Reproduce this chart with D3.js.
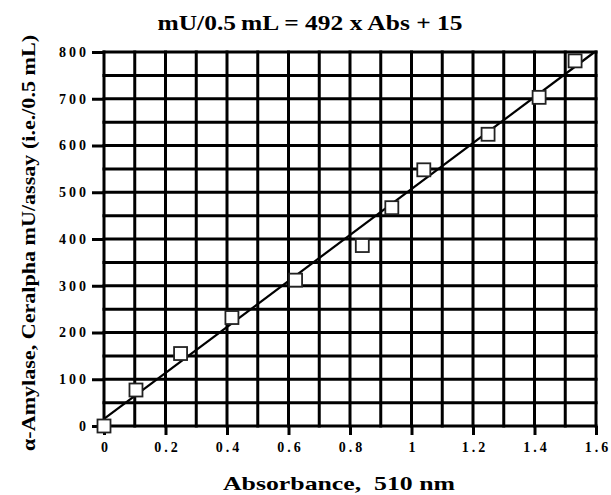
<!DOCTYPE html>
<html>
<head>
<meta charset="utf-8">
<script src="https://cdn.jsdelivr.net/npm/d3@7"></script>
<style>
    body { margin: 0; background: #fff; }
    svg text { font-family: "Liberation Serif", "Times New Roman", serif; font-weight: bold; fill: #000; }
</style>
</head>
<body>
<div id="chart"></div>
<script>
// data
const absorbance = [0, 0.104, 0.249, 0.416, 0.623, 0.84, 0.936, 1.04, 1.249, 1.415, 1.532];
const activity   = [0, 77, 155, 232, 312, 386, 467, 548, 624, 703, 781];
const fitSlope = 492;
const fitIntercept = 15;
const xTicks = [0, 0.2, 0.4, 0.6, 0.8, 1, 1.2, 1.4, 1.6];
const yTicks = [0, 100, 200, 300, 400, 500, 600, 700, 800];
const titleText = "mU/0.5\u2009mL = 492 x Abs + 15";
const xLabel = "Absorbance,\u00a0 510 nm";
const yLabel = "\u03b1-Amylase, Ceralpha mU/assay (i.e./0.5 mL)";

const width = 611, height = 495;
const margin = { top: 52, right: 15, bottom: 69, left: 104 };

const svg = d3.select("#chart").append("svg")
    .attr("width", width)
    .attr("height", height);

const x = d3.scaleLinear().domain([0, 1.6]).range([margin.left, width - margin.right]);
const y = d3.scaleLinear().domain([0, 800]).range([height - margin.bottom, margin.top]);

// grid: every 0.1 on x, every 50 on y
const grid = svg.append("g").attr("stroke", "#000").attr("stroke-width", 3);
grid.selectAll(".vx")
    .data(d3.range(0, 17).map(i => i / 10))
    .enter().append("line")
    .attr("x1", d => x(d)).attr("x2", d => x(d))
    .attr("y1", y(800) - 1.5).attr("y2", y(0) + 1.5);
grid.selectAll(".hy")
    .data(d3.range(0, 17).map(i => i * 50))
    .enter().append("line")
    .attr("x1", x(0) - 1.5).attr("x2", x(1.6) + 1.5)
    .attr("y1", d => y(d)).attr("y2", d => y(d));

// axes
const xAxis = svg.append("g")
    .attr("transform", `translate(0,${y(0)})`)
    .call(d3.axisBottom(x).tickValues(xTicks).tickSize(9).tickPadding(7)
        .tickFormat(d => d === 0 ? "0" : d3.format("")(d)));
const yAxis = svg.append("g")
    .attr("transform", `translate(${x(0)},0)`)
    .call(d3.axisLeft(y).tickValues(yTicks).tickSize(12).tickPadding(3));

[xAxis, yAxis].forEach(a => {
    a.select(".domain").remove();
    a.selectAll("line").attr("stroke", "#000").attr("stroke-width", 3);
    a.selectAll("text")
        .style("font-size", "14px")
        .style("letter-spacing", "3px")
        .style("font-family", "'Liberation Serif', serif")
        .style("font-weight", "bold")
        .attr("fill", "#000");
});
xAxis.selectAll("text").attr("dx", "1.5px");

// fit line
const xEnd = (800 - fitIntercept) / fitSlope;
svg.append("line")
    .attr("x1", x(0)).attr("y1", y(fitIntercept))
    .attr("x2", x(xEnd)).attr("y2", y(800))
    .attr("stroke", "#000").attr("stroke-width", 2.2);

// points
const pts = absorbance.map((a, i) => ({ a: a, v: activity[i] }));
const s = 13;
svg.append("g").selectAll("rect")
    .data(pts)
    .enter().append("rect")
    .attr("x", d => x(d.a) - s / 2)
    .attr("y", d => y(d.v) - s / 2)
    .attr("width", s).attr("height", s)
    .attr("fill", "#fff")
    .attr("stroke", "#222")
    .attr("stroke-width", 1.8);

// titles
svg.append("text")
    .attr("x", 310).attr("y", 30)
    .attr("text-anchor", "middle")
    .attr("textLength", 305)
    .attr("lengthAdjust", "spacingAndGlyphs")
    .style("font-size", "20px")
    .text(titleText);

svg.append("text")
    .attr("x", 339).attr("y", 490)
    .attr("text-anchor", "middle")
    .attr("textLength", 232)
    .attr("lengthAdjust", "spacingAndGlyphs")
    .style("font-size", "19px")
    .text(xLabel);

svg.append("text")
    .attr("transform", "translate(35,243) rotate(-90)")
    .attr("text-anchor", "middle")
    .attr("textLength", 416)
    .attr("lengthAdjust", "spacingAndGlyphs")
    .style("font-size", "19px")
    .text(yLabel);
</script>
</body>
</html>
